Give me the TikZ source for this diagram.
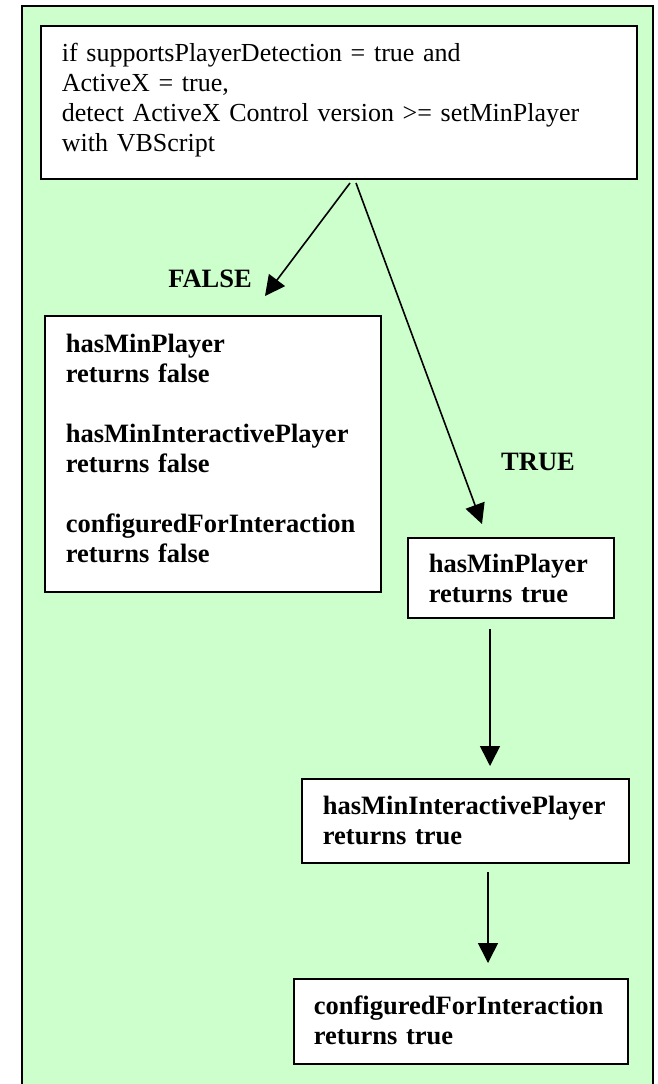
\documentclass[tikz,border=0pt]{standalone}
\usepackage{fontspec}
\setmainfont{Liberation Serif}
\usetikzlibrary{arrows.meta}
\definecolor{bggreen}{HTML}{CCFFCC}
\tikzset{
  box/.style={draw=black, line width=1.8pt, fill=white, anchor=north west,
    align=left, inner ysep=0pt, inner xsep=21pt,
    font=\fontsize{26}{30}\selectfont},
  boldbox/.style={box, font=\fontsize{26.5}{30}\selectfont\bfseries},
  lbl/.style={anchor=base, font=\fontsize{26.5}{30}\selectfont\bfseries},
  arr/.style={line width=1.6pt, -{Triangle[length=20pt,width=20pt]}},
}
\newcommand{\topstrut}[1]{\rule{0pt}{#1pt}}
\newcommand{\botstrut}[1]{\rule[-#1pt]{0pt}{#1pt}}
\begin{document}
\begin{tikzpicture}[x=1pt,y=-1pt]
\useasboundingbox (0,0) rectangle (658,1084);
\fill[white] (0,0) rectangle (658,1084);
\draw[line width=2.5pt, fill=bggreen] (22,6) rectangle (653,1095);

\node[box, text width=554pt] (top) at (40,25)
  {\topstrut{36}if supportsPlayerDetection = true and\\
   ActiveX = true,\\
   detect ActiveX Control version >= setMinPlayer\\
   with VBScript\botstrut{27}};

\node[boldbox, text width=294pt] (fbox) at (44,315)
  {\topstrut{37}hasMinPlayer\\
   returns false\\[30pt]
   hasMinInteractivePlayer\\
   returns false\\[30pt]
   configuredForInteraction\\
   returns false\botstrut{29}};

\node[boldbox, text width=164pt] (t1) at (407,537)
  {\topstrut{35}hasMinPlayer\\
   returns true\botstrut{15}};

\node[boldbox, text width=285pt] (t2) at (301,778)
  {\topstrut{36}hasMinInteractivePlayer\\
   returns true\botstrut{18}};

\node[boldbox, inner xsep=20pt, text width=294pt] (t3) at (293,978)
  {\topstrut{36}configuredForInteraction\\
   returns true\botstrut{19}};

\node[lbl] (flabel) at (210,287) {FALSE};
\node[lbl] (tlabel) at (538,470) {TRUE};

\coordinate (fa) at (350,183);
\coordinate (fb) at (265,296);
\coordinate (ta) at (356,183);
\coordinate (tb) at (482,524);
\coordinate (v1a) at (490,629);
\coordinate (v1b) at (490,766);
\coordinate (v2a) at (488,872);
\coordinate (v2b) at (488,963);

\draw[arr] (fa) -- (fb);
\draw[arr] (ta) -- (tb);
\draw[arr] (v1a) -- (v1b);
\draw[arr] (v2a) -- (v2b);
\end{tikzpicture}
\end{document}
